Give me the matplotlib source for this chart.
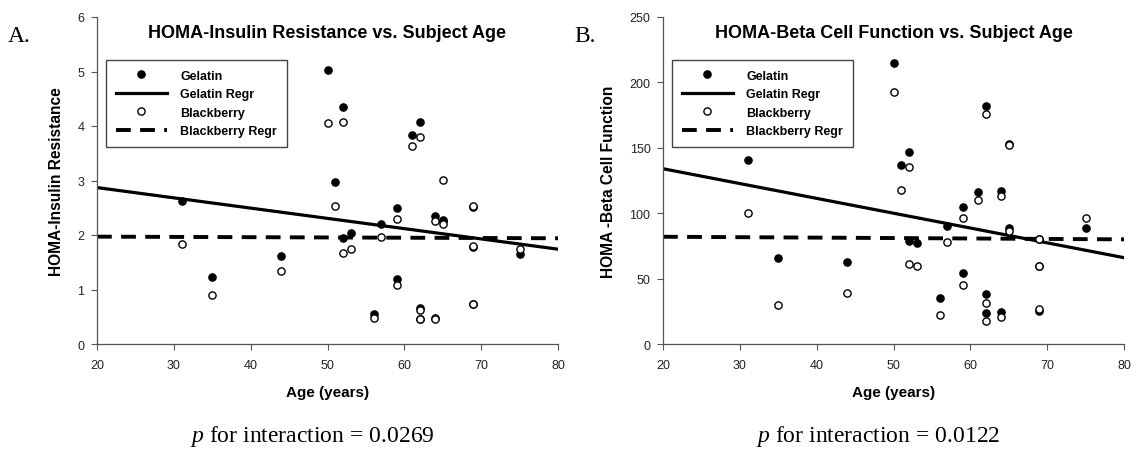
import matplotlib
matplotlib.use("Agg")
import matplotlib.pyplot as plt

# Subject ages (paired: each subject had both treatments)
age = [31, 35, 44, 50, 51, 52, 52, 53, 56, 57, 59, 59,
       61, 62, 62, 62, 64, 64, 65, 65, 69, 69, 69, 75]

# Panel A: HOMA-Insulin Resistance
ir_gelatin = [2.62, 1.23, 1.62, 5.02, 2.98, 4.35, 1.95, 2.03, 0.55, 2.20, 2.49, 1.19,
              3.83, 4.07, 0.66, 0.46, 2.34, 0.48, 2.28, 2.25, 2.52, 1.78, 0.73, 1.66]
ir_blackberry = [1.83, 0.90, 1.34, 4.05, 2.53, 4.08, 1.67, 1.74, 0.48, 1.97, 2.29, 1.08,
                 3.63, 3.80, 0.63, 0.45, 2.25, 0.46, 3.01, 2.21, 2.54, 1.79, 0.74, 1.75]
ir_regr_x = [20, 80]
ir_regr_gelatin = [2.87, 1.74]
ir_regr_blackberry = [1.97, 1.94]

# Panel B: HOMA-Beta Cell Function
bc_gelatin = [141, 66, 63, 215, 137, 147, 79, 77, 35, 90, 105, 54.5,
              116, 182, 38, 24, 117, 24.5, 89, 153, 80, 60, 25, 88.5]
bc_blackberry = [100, 30, 39, 193, 118, 135.5, 61.5, 60, 22.5, 78, 96, 45,
                 110, 175.5, 31, 17.7, 113, 20.5, 152, 86.5, 80, 60, 27, 96]
bc_regr_x = [20, 80]
bc_regr_gelatin = [134, 66]
bc_regr_blackberry = [82, 80]

panels = [
    dict(letter="A.", title="HOMA-Insulin Resistance vs. Subject Age",
         ylabel="HOMA-Insulin Resistance", g=ir_gelatin, b=ir_blackberry,
         rx=ir_regr_x, rg=ir_regr_gelatin, rb=ir_regr_blackberry,
         ylim=(0, 6), yticks=range(0, 7), p="0.0269"),
    dict(letter="B.", title="HOMA-Beta Cell Function vs. Subject Age",
         ylabel="HOMA -Beta Cell Function", g=bc_gelatin, b=bc_blackberry,
         rx=bc_regr_x, rg=bc_regr_gelatin, rb=bc_regr_blackberry,
         ylim=(0, 250), yticks=range(0, 251, 50), p="0.0122"),
]

sans = ["Liberation Sans", "DejaVu Sans"]
narrow = ["Liberation Sans Narrow", "Liberation Sans", "DejaVu Sans"]
serif = ["Liberation Serif", "DejaVu Serif"]

plt.rcParams["mathtext.fontset"] = "custom"
plt.rcParams["mathtext.it"] = "Liberation Serif:italic"
plt.rcParams["mathtext.rm"] = "Liberation Serif"

fig = plt.figure(figsize=(11.32, 4.52), dpi=100)
lefts = [97 / 1132, 663 / 1132]

for left, pn in zip(lefts, panels):
    ax = fig.add_axes([left, 1 - 345 / 452, 461 / 1132, 327 / 452])

    ax.plot(age, pn["g"], "o", color="black", ms=5.2, mec="black", mew=1, zorder=3,
            label="Gelatin")
    ax.plot(pn["rx"], pn["rg"], "-", color="black", lw=2.3, zorder=2, label="Gelatin Regr")
    ax.plot(age, pn["b"], "o", color="white", ms=5.2, mec="black", mew=1, zorder=4,
            label="Blackberry")
    ax.plot(pn["rx"], pn["rb"], color="black", lw=2.8, dashes=(3.8, 2.4), zorder=2,
            label="Blackberry Regr")

    ax.set_xlim(20, 80)
    ax.set_ylim(*pn["ylim"])
    ax.set_xticks(range(20, 81, 10))
    ax.set_yticks(list(pn["yticks"]))
    for s in ["top", "right"]:
        ax.spines[s].set_visible(False)
    for s in ["left", "bottom"]:
        ax.spines[s].set_color("#555555")
        ax.spines[s].set_linewidth(0.9)
    ax.tick_params(direction="out", length=4, width=0.8, color="#555555",
                   labelsize=9, labelcolor="#222222")
    ax.tick_params(axis="x", pad=7)
    ax.tick_params(axis="y", pad=5)
    for lab in ax.get_xticklabels() + ax.get_yticklabels():
        lab.set_family(narrow)

    ax.set_xlabel("Age (years)", fontsize=11, fontweight="bold", family=sans, labelpad=10)
    ax.set_ylabel(pn["ylabel"], fontsize=11.2, fontweight="bold", family=sans, labelpad=10)
    ax.text(0.5, 0.952, pn["title"], transform=ax.transAxes, ha="center", va="center",
            fontsize=13, fontweight="bold", family=sans)

    leg = ax.legend(loc="upper left", bbox_to_anchor=(0.019, 0.869), frameon=True,
                    fancybox=False, edgecolor="#444444", framealpha=1,
                    handlelength=4.1, handletextpad=1.05, borderpad=0.8,
                    labelspacing=0.52, borderaxespad=0,
                    prop=dict(family=sans, weight="bold", size=9))
    leg.get_frame().set_linewidth(1.0)

    ax_box = ax.get_position()
    fig.text(ax_box.x0 - 89 / 1132, 1 - 37 / 452, pn["letter"], fontsize=17,
             family=serif, va="center", ha="left")
    fig.text(ax_box.x0 + 215 / 1132, 1 - 437 / 452,
             "$\\mathit{p}$ for interaction = " + pn["p"],
             fontsize=17, family=serif, va="center", ha="center")

fig.savefig("out.png", dpi=100)
